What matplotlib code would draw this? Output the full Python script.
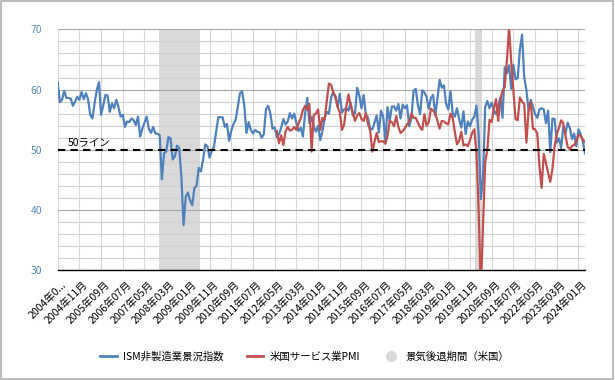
import matplotlib
matplotlib.use('Agg')
import matplotlib.pyplot as plt
from matplotlib.lines import Line2D
from matplotlib.patches import Rectangle
from matplotlib.transforms import ScaledTranslation
import numpy as np

plt.rcParams['font.family'] = ['Noto Sans CJK JP', 'DejaVu Sans']

# 2004-01 .. 2024-04, monthly
start_year, start_month = 2004, 1
n_months = 244

ism = [
    61.2, 57.9, 58.3, 59.8, 58.6, 58.6, 58.5, 57.3, 58.0, 58.8, 58.3, 59.6,
    58.4, 59.4, 58.4, 55.8, 55.2, 57.7, 59.9, 61.2, 55.8, 57.4, 59.1, 59.0,
    56.3, 57.7, 56.9, 58.3, 57.1, 55.5, 55.8, 53.8, 54.7, 54.6, 55.2, 54.9,
    54.1, 55.5, 52.2, 53.5, 54.5, 55.5, 53.5, 52.8, 53.8, 52.7, 52.7, 52.4,
    45.1, 49.4, 49.7, 52.1, 51.9, 48.4, 48.9, 50.7, 50.3, 45.5, 37.5, 42.2,
    42.9, 41.6, 40.8, 43.7, 44.0, 47.0, 46.4, 48.4, 50.9, 50.6, 48.7, 49.8,
    50.5, 53.0, 55.4, 55.4, 55.4, 53.8, 54.3, 51.5, 53.2, 54.3, 55.0, 57.1,
    59.4, 59.7, 57.3, 52.8, 54.6, 53.3, 52.7, 53.3, 53.0, 52.9, 52.0, 52.6,
    56.8, 57.3, 56.0, 53.5, 53.7, 52.1, 52.6, 53.7, 55.1, 54.2, 54.7, 56.1,
    55.2, 56.0, 54.4, 53.1, 53.7, 52.2, 56.0, 58.6, 54.4, 55.4, 53.9, 53.0,
    54.0, 51.6, 53.1, 55.2, 56.3, 56.0, 58.7, 59.6, 58.6, 57.1, 59.3, 56.2,
    56.7, 56.9, 56.5, 57.8, 55.7, 56.0, 60.3, 59.0, 56.9, 59.1, 55.9, 55.3,
    53.5, 53.4, 54.5, 55.7, 52.9, 56.5, 55.5, 51.4, 57.1, 54.8, 57.2, 57.2,
    56.5, 57.6, 55.2, 57.5, 56.9, 57.4, 53.9, 55.3, 59.8, 60.1, 57.4, 55.9,
    59.9, 59.5, 58.8, 56.8, 58.6, 59.1, 55.7, 58.5, 61.6, 60.3, 60.7, 57.6,
    56.7, 59.7, 56.1, 55.5, 56.9, 55.1, 53.7, 56.4, 52.6, 54.7, 53.9, 55.0,
    55.5, 57.3, 52.5, 41.8, 45.4, 57.1, 58.1, 56.9, 57.8, 56.6, 55.9, 57.2,
    58.7, 55.3, 63.7, 62.7, 64.0, 60.1, 64.1, 61.7, 61.9, 66.7, 69.1, 62.0,
    59.9, 56.5, 58.3, 57.1, 55.9, 55.3, 56.7, 56.9, 56.7, 54.4, 56.5, 49.6,
    55.2, 55.1, 51.2, 51.9, 50.3, 53.9, 52.7, 54.5, 53.6, 51.8, 52.7, 50.6,
    53.4, 52.6, 51.4, 49.4,
]

# services PMI starts 2012-06
pmi_start = 101
pmi = [
    53.1, 51.1, 52.4, 50.8, 53.0, 53.8, 53.2,
    53.3, 53.8, 53.3, 54.4, 55.2, 56.6, 57.3, 56.6, 57.6, 49.7, 55.8, 56.0,
    56.7, 53.3, 55.3, 55.0, 58.1, 61.0, 60.8, 59.5, 58.9, 57.1, 56.2, 53.3,
    54.2, 57.1, 59.2, 57.4, 56.2, 54.8, 55.7, 56.1, 55.1, 54.8, 56.1, 54.3,
    53.2, 49.7, 51.3, 52.8, 51.3, 51.4, 51.4, 51.0, 52.3, 54.8, 54.6, 53.9,
    55.6, 53.8, 52.8, 53.1, 53.6, 54.2, 54.7, 56.0, 55.3, 55.3, 54.5, 53.7,
    53.3, 55.9, 54.0, 54.6, 56.8, 56.5, 56.0, 54.8, 53.5, 54.8, 54.7, 54.4,
    54.2, 56.0, 55.3, 53.0, 50.9, 51.5, 53.0, 50.7, 50.9, 50.6, 51.6, 52.8,
    53.4, 49.4, 39.8, 26.7, 37.5, 47.9, 50.0, 55.0, 54.6, 56.9, 58.4, 54.8,
    58.3, 59.8, 60.4, 64.7, 70.4, 64.6, 59.9, 55.1, 54.9, 58.7, 58.0, 57.6,
    51.2, 56.5, 58.0, 53.5, 53.4, 52.7, 47.3, 43.7, 49.3, 47.8, 46.2, 44.7,
    46.8, 50.6, 52.6, 53.6, 54.9, 54.4, 52.3, 50.5, 50.1, 50.6, 50.8, 51.4,
    52.5, 52.3, 51.7, 51.3,
]

# recession months (index from 2004-01): 2007-12..2009-06, 2020-02..2020-04
recession = list(range(47, 66)) + [193, 194, 195]

labels = []
for i in range(n_months):
    y = start_year + (start_month - 1 + i) // 12
    mth = (start_month - 1 + i) % 12 + 1
    labels.append(f'{y}年{mth:02d}月')
tick_pos = list(range(0, n_months, 10))
tick_lab = [labels[i] for i in tick_pos]
tick_lab[0] = '2004年0...'

blue = '#4f81bd'
red = '#c0504d'

fig = plt.figure(figsize=(6.15, 3.8), dpi=100)
ax = fig.add_axes([57.7 / 615, 1 - 270.3 / 380, (585 - 57.7) / 615, (270.3 - 29.3) / 380])

ax.bar(recession, [40] * len(recession), bottom=30, width=1.0, color='#d9d9d9', lw=0, zorder=1)

x = np.arange(n_months)
ax.plot(x, ism, color=blue, lw=1.6, zorder=3)
ax.plot(np.arange(pmi_start, pmi_start + len(pmi)), pmi, color=red, lw=1.6, zorder=3)
ax.axhline(50, color='black', lw=1.5, ls=(0, (3.5, 2.5)), zorder=4)
ax.text(4.5, 50.4, '50ライン', fontsize=7.5, ha='left', va='bottom', zorder=5)

ax.set_xlim(0, n_months - 1)
ax.set_ylim(30, 70)
ax.set_yticks([30, 40, 50, 60, 70])
ax.set_yticks(np.arange(30, 71, 2), minor=True)
ax.set_xticks(tick_pos)
ax.set_xticklabels(tick_lab, rotation=45, ha='right', va='center', rotation_mode='anchor', fontsize=7.5)
ax.tick_params(axis='y', length=0, pad=11, labelsize=7.5, labelcolor='#5a8ac6', which='both')
ax.tick_params(axis='x', length=0, pad=9)
shift = ScaledTranslation(5 / 72, 0, fig.dpi_scale_trans)
for lab in ax.get_xticklabels():
    lab.set_transform(lab.get_transform() + shift)

ax.grid(True, axis='y', which='major', color='#a6a6a6', lw=0.8, zorder=0)
ax.grid(True, axis='y', which='minor', color='#d0d0d0', lw=0.8, zorder=0)
ax.grid(True, axis='x', which='major', color='#d9d9d9', lw=0.8, zorder=0)
for s in ['top', 'right', 'left']:
    ax.spines[s].set_visible(False)
ax.spines['bottom'].set_color('black')
ax.spines['bottom'].set_linewidth(1.0)

handles = [
    Line2D([0], [0], color=blue, lw=2),
    Line2D([0], [0], color=red, lw=2),
    Line2D([0], [0], marker='o', color='#d9d9d9', lw=0, markersize=7),
]
fig.legend(handles, ['ISM非製造業景況指数', '米国サービス業PMI', '景気後退期間（米国）'],
           loc='center', bbox_to_anchor=(305 / 615, 1 - 357 / 380), ncol=3, frameon=False,
           fontsize=7.5, handlelength=1.6, columnspacing=2.2, handletextpad=0.6)

fig.patches.append(Rectangle((0.002, 0.003), 0.995, 0.994, transform=fig.transFigure,
                             fill=False, edgecolor='#b0b0b0', lw=1.2))

fig.savefig('out.png', dpi=100)
